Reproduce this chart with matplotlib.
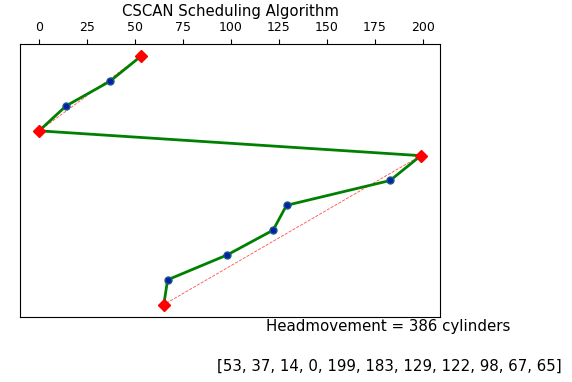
import matplotlib
matplotlib.use("Agg")
import matplotlib.pyplot as plt

# CSCAN request order served by the head
sequence = [53, 37, 14, 0, 199, 183, 129, 122, 98, 67, 65]
# the turning points (start, edges, end)
corners = [53, 0, 199, 65]
corner_idx = [0, 3, 4, 10]
head_movement = 386

steps = [-i for i in range(len(sequence))]
corner_steps = [-i for i in corner_idx]

fig = plt.figure(figsize=(5.72, 3.82), dpi=100)
ax = fig.add_axes([0.035, 0.17, 0.734, 0.715])

ax.plot(corners, corner_steps, "r--", linewidth=0.6, alpha=0.7)
ax.plot(sequence, steps, color="green", linewidth=2, zorder=2)
ax.plot(sequence, steps, "o", color="#0022aa", markersize=5, markeredgecolor="#1a5a80", zorder=3)
ax.plot(corners, corner_steps, "D", color="red", markersize=6, zorder=4)

ax.xaxis.tick_top()
ax.set_xticks([0, 25, 50, 75, 100, 125, 150, 175, 200])
ax.tick_params(axis="x", labelsize=9)
ax.set_yticks([])
ax.set_title("CSCAN Scheduling Algorithm", fontsize=10.7, pad=4)

fig.text(0.678, 0.145, "Headmovement = " + str(head_movement) + " cylinders", ha="center", va="center", fontsize=10.8)
fig.text(0.68, 0.042, str(sequence), ha="center", va="center", fontsize=10.8)

fig.savefig("out.png", dpi=100)
